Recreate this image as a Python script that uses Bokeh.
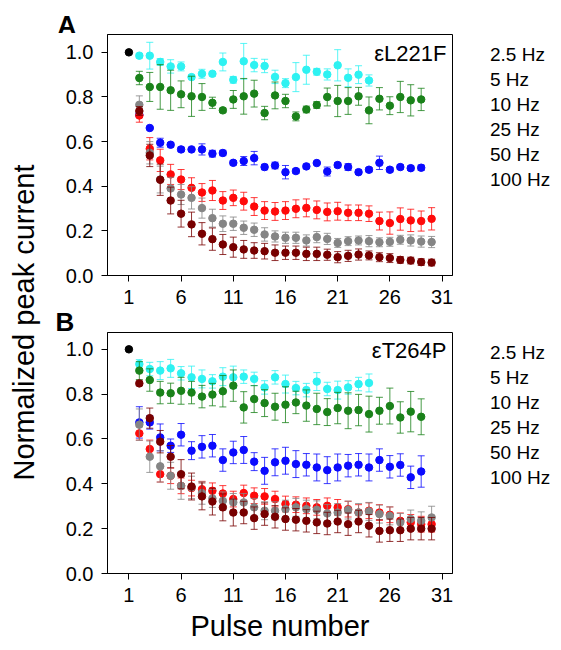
import math
from bokeh.plotting import figure
from bokeh.models import Range1d, FixedTicker, NumeralTickFormatter, Label, Legend, LegendItem
from bokeh.layouts import row, column
from bokeh.embed import file_html
from bokeh.resources import INLINE

# ---------------- data ----------------
pulses = list(range(1, 31))
x_ticks = [1, 6, 11, 16, 21, 26, 31]
y_ticks = [0.0, 0.2, 0.4, 0.6, 0.8, 1.0]
freq_labels = ["2.5 Hz", "5 Hz", "10 Hz", "25 Hz", "50 Hz", "100 Hz"]
series_colors = ["#2ef2f2", "#1a821a", "#0a0aff", "#ff0a0a", "#858585", "#780000"]
legend_colors = ["#33ffff", "#1a821a", "#0000ff", "#ff0000", "#555555", "#700000"]
first_pulse_value = [1.0]

# Panel A (eL221F), values start at pulse 2
a_cyan = [0.985, 0.985, 0.957, 0.937, 0.937, 0.889, 0.904, 0.904, 0.957, 0.877, 0.96, 0.943,
          0.939, 0.89, 0.862, 0.889, 0.922, 0.913, 0.901, 0.942, 0.886, 0.90, 0.874]
a_cyan_err = [0.01, 0.06, 0.015, 0.03, 0.02, 0.01, 0.02, 0.01, 0.04, 0.015, 0.08, 0.03,
              0.03, 0.03, 0.02, 0.065, 0.065, 0.015, 0.025, 0.07, 0.04, 0.04, 0.025]
a_green = [0.885, 0.845, 0.845, 0.83, 0.812, 0.803, 0.80, 0.774, 0.74, 0.789, 0.803, 0.815,
           0.728, 0.807, 0.782, 0.713, 0.744, 0.764, 0.80, 0.782, 0.782, 0.803, 0.74, 0.792,
           0.761, 0.80, 0.785, 0.789]
a_green_err = [0.03, 0.065, 0.1, 0.09, 0.06, 0.09, 0.06, 0.025, 0.01, 0.04, 0.08, 0.06,
               0.03, 0.06, 0.03, 0.02, 0.015, 0.015, 0.04, 0.07, 0.06, 0.04, 0.06, 0.05,
               0.04, 0.07, 0.07, 0.05]
a_blue = [0.72, 0.661, 0.595, 0.586, 0.565, 0.565, 0.565, 0.546, 0.549, 0.505, 0.513, 0.526,
          0.486, 0.493, 0.463, 0.468, 0.489, 0.504, 0.466, 0.495, 0.486, 0.463, 0.474, 0.505,
          0.474, 0.486, 0.481, 0.483]
a_blue_err = [0.01, 0.005, 0.02, 0.01, 0.01, 0.005, 0.025, 0.015, 0.012, 0.01, 0.02, 0.03,
              0.012, 0.015, 0.03, 0.01, 0.01, 0.005, 0.02, 0.01, 0.015, 0.01, 0.01, 0.03,
              0.01, 0.01, 0.01, 0.012]
a_red = [0.717, 0.568, 0.516, 0.453, 0.43, 0.393, 0.372, 0.381, 0.336, 0.348, 0.333, 0.309,
         0.291, 0.287, 0.291, 0.299, 0.303, 0.294, 0.285, 0.288, 0.281, 0.281, 0.277, 0.244,
         0.235, 0.253, 0.247, 0.244, 0.254]
a_red_err = [0.03, 0.05, 0.05, 0.045, 0.045, 0.045, 0.04, 0.045, 0.04, 0.035, 0.04, 0.04,
             0.04, 0.04, 0.04, 0.04, 0.04, 0.04, 0.04, 0.04, 0.035, 0.035, 0.035, 0.04,
             0.05, 0.05, 0.05, 0.045, 0.05]
a_gray = [0.765, 0.55, 0.43, 0.39, 0.363, 0.348, 0.302, 0.257, 0.232, 0.232, 0.214, 0.205,
          0.184, 0.175, 0.169, 0.169, 0.157, 0.172, 0.164, 0.146, 0.154, 0.157, 0.154, 0.149,
          0.151, 0.16, 0.157, 0.152, 0.15]
a_gray_err = [0.04, 0.05, 0.06, 0.05, 0.045, 0.05, 0.045, 0.04, 0.035, 0.03, 0.03, 0.03,
              0.03, 0.025, 0.025, 0.025, 0.025, 0.025, 0.025, 0.02, 0.02, 0.02, 0.025, 0.02,
              0.02, 0.02, 0.025, 0.025, 0.025]
a_maroon = [0.737, 0.538, 0.429, 0.336, 0.277, 0.229, 0.187, 0.163, 0.139, 0.127, 0.117, 0.112,
            0.109, 0.102, 0.102, 0.102, 0.097, 0.097, 0.093, 0.082, 0.088, 0.094, 0.09, 0.082,
            0.078, 0.07, 0.067, 0.06, 0.058]
a_maroon_err = [0.02, 0.05, 0.07, 0.06, 0.06, 0.055, 0.05, 0.05, 0.045, 0.045, 0.04, 0.035,
                0.035, 0.035, 0.03, 0.03, 0.03, 0.03, 0.025, 0.025, 0.025, 0.025, 0.02, 0.02,
                0.02, 0.015, 0.015, 0.015, 0.015]

# Panel B (eT264P), values start at pulse 2
b_cyan = [0.934, 0.912, 0.905, 0.915, 0.893, 0.875, 0.868, 0.857, 0.878, 0.875, 0.878, 0.868,
          0.83, 0.875, 0.845, 0.827, 0.818, 0.856, 0.823, 0.818, 0.83, 0.845, 0.85]
b_cyan_err = [0.02, 0.03, 0.04, 0.04, 0.03, 0.05, 0.04, 0.03, 0.04, 0.05, 0.03, 0.03,
              0.03, 0.03, 0.04, 0.03, 0.03, 0.04, 0.03, 0.04, 0.03, 0.03, 0.04]
b_green = [0.905, 0.863, 0.807, 0.804, 0.815, 0.807, 0.789, 0.798, 0.813, 0.838, 0.741, 0.778,
           0.76, 0.744, 0.753, 0.763, 0.749, 0.734, 0.72, 0.738, 0.726, 0.729, 0.711, 0.726,
           0.747, 0.696, 0.722, 0.699]
b_green_err = [0.04, 0.05, 0.05, 0.045, 0.06, 0.05, 0.05, 0.05, 0.07, 0.07, 0.07, 0.06,
               0.06, 0.06, 0.08, 0.05, 0.07, 0.07, 0.06, 0.07, 0.08, 0.07, 0.08, 0.06,
               0.08, 0.07, 0.09, 0.08]
b_blue = [0.674, 0.674, 0.607, 0.57, 0.619, 0.548, 0.565, 0.57, 0.506, 0.54, 0.551, 0.499,
          0.458, 0.496, 0.503, 0.488, 0.485, 0.473, 0.461, 0.473, 0.481, 0.485, 0.473, 0.506,
          0.476, 0.484, 0.429, 0.455]
b_blue_err = [0.07, 0.03, 0.06, 0.03, 0.05, 0.04, 0.05, 0.05, 0.05, 0.05, 0.06, 0.04,
              0.06, 0.06, 0.06, 0.06, 0.05, 0.06, 0.06, 0.06, 0.05, 0.05, 0.06, 0.05,
              0.05, 0.05, 0.05, 0.07]
b_red = [0.625, 0.555, 0.443, 0.436, 0.391, 0.381, 0.376, 0.369, 0.357, 0.332, 0.359, 0.347,
         0.344, 0.332, 0.31, 0.307, 0.302, 0.295, 0.302, 0.295, 0.287, 0.272, 0.28, 0.272,
         0.262, 0.235, 0.228, 0.22, 0.22]
b_red_err = [0.03, 0.04, 0.035, 0.035, 0.035, 0.035, 0.035, 0.035, 0.035, 0.035, 0.035, 0.035,
             0.035, 0.035, 0.035, 0.035, 0.035, 0.035, 0.035, 0.035, 0.035, 0.035, 0.035, 0.035,
             0.035, 0.035, 0.035, 0.035, 0.035]
b_gray = [0.664, 0.521, 0.478, 0.436, 0.391, 0.384, 0.359, 0.335, 0.324, 0.317, 0.317, 0.295,
          0.28, 0.28, 0.287, 0.295, 0.287, 0.284, 0.268, 0.272, 0.283, 0.272, 0.277, 0.265,
          0.257, 0.228, 0.243, 0.235, 0.25]
b_gray_err = [0.07, 0.07, 0.07, 0.06, 0.06, 0.05, 0.05, 0.04, 0.04, 0.04, 0.04, 0.04,
              0.04, 0.04, 0.04, 0.04, 0.04, 0.04, 0.04, 0.04, 0.04, 0.04, 0.04, 0.04,
              0.04, 0.04, 0.04, 0.04, 0.05]
b_maroon = [0.848, 0.693, 0.588, 0.521, 0.443, 0.388, 0.344, 0.321, 0.295, 0.272, 0.272, 0.247,
            0.265, 0.253, 0.243, 0.24, 0.235, 0.228, 0.223, 0.232, 0.22, 0.232, 0.213, 0.19,
            0.193, 0.193, 0.2, 0.2, 0.2]
b_maroon_err = [0.01, 0.045, 0.05, 0.05, 0.065, 0.06, 0.06, 0.06, 0.06, 0.06, 0.05, 0.05,
                0.05, 0.05, 0.05, 0.05, 0.05, 0.05, 0.05, 0.05, 0.05, 0.05, 0.05, 0.05,
                0.05, 0.05, 0.05, 0.05, 0.05]

panel_a = [(a_cyan, a_cyan_err), (a_green, a_green_err), (a_blue, a_blue_err),
           (a_red, a_red_err), (a_gray, a_gray_err), (a_maroon, a_maroon_err)]
panel_b = [(b_cyan, b_cyan_err), (b_green, b_green_err), (b_blue, b_blue_err),
           (b_red, b_red_err), (b_gray, b_gray_err), (b_maroon, b_maroon_err)]

FONT = "Liberation Sans"
YLAB_W = 48
PANEL_W = 405
LEG_W = 108
FRAME_H = 241
A_BOTTOM = 37
B_BOTTOM = 76


def blank(width, height, top=0, bottom=0):
    f = figure(width=width, height=height, x_range=Range1d(0, width), y_range=Range1d(0, height - top - bottom),
               x_axis_type=None, y_axis_type=None, output_backend="svg", toolbar_location=None,
               min_border_left=0, min_border_right=0, min_border_top=top, min_border_bottom=bottom)
    f.outline_line_color = None
    f.xgrid.visible = False
    f.ygrid.visible = False
    return f


def make_panel(series, mutant, ymax, bottom, mutant_pos, xlabel=None):
    height = 1 + FRAME_H + bottom
    p = figure(width=PANEL_W, height=height, x_range=Range1d(-1.05, 32.0), y_range=Range1d(0, ymax),
               output_backend="svg", toolbar_location=None,
               min_border_left=59, min_border_right=1, min_border_top=1, min_border_bottom=bottom)
    p.xgrid.visible = False
    p.ygrid.visible = False
    p.outline_line_color = "black"
    p.outline_line_width = 1
    for ax in (p.xaxis[0], p.yaxis[0]):
        ax.axis_line_color = "black"
        ax.major_tick_line_color = "black"
        ax.major_tick_out = 6
        ax.major_tick_in = 0
        ax.minor_tick_line_color = None
        ax.major_label_text_font = FONT
        ax.major_label_text_font_size = "20px"
        ax.major_label_text_color = "black"
    p.xaxis.ticker = FixedTicker(ticks=x_ticks)
    p.yaxis.ticker = FixedTicker(ticks=y_ticks)
    p.yaxis.formatter = NumeralTickFormatter(format="0.0")
    p.xaxis.major_label_standoff = 8
    p.yaxis.major_label_standoff = 8
    if xlabel:
        p.xaxis.axis_label = xlabel
        p.xaxis.axis_label_text_font = FONT
        p.xaxis.axis_label_text_font_size = "29px"
        p.xaxis.axis_label_text_font_style = "normal"
        p.xaxis.axis_label_text_color = "black"
        p.xaxis.axis_label_standoff = 5

    for (vals, errs), col in zip(series, series_colors):
        xs = pulses[1:1 + len(vals)]
        lo = [v - e for v, e in zip(vals, errs)]
        hi = [v + e for v, e in zip(vals, errs)]
        p.segment(xs, lo, xs, hi, line_color=col, line_alpha=0.8, line_width=1)
        p.scatter(xs, hi, marker="dash", size=7, line_color=col, line_alpha=0.8, line_width=1)
        p.scatter(xs, lo, marker="dash", size=7, line_color=col, line_alpha=0.8, line_width=1)
        p.scatter(xs, vals, size=7.5, fill_color=col, line_color=col)
    p.scatter(pulses[:1], first_pulse_value, size=7.5, fill_color="black", line_color="black")

    p.add_layout(Label(x=mutant_pos[0], y=mutant_pos[1], text=mutant, text_font=FONT,
                       text_font_size="22px", text_color="black",
                       text_align="right", text_baseline="middle"))
    return p


def make_legend(bottom):
    f = blank(LEG_W, 1 + FRAME_H + bottom, top=1, bottom=bottom)
    items = []
    for lab, col in zip(freq_labels, legend_colors):
        r = f.scatter(x=[], y=[], size=10, fill_color=col, line_color=col)
        items.append(LegendItem(label=lab, renderers=[r]))
    legend = Legend(items=items, location=(0, FRAME_H - 8 - 150), orientation="vertical",
                    glyph_width=29, glyph_height=25, label_height=25, spacing=0, padding=0,
                    margin=0, label_standoff=8, border_line_color=None, background_fill_alpha=0,
                    label_text_font=FONT, label_text_font_size="19px", label_text_color="black")
    f.add_layout(legend)
    return f


# strip with the panel letter "A" above panel A
stripA = blank(PANEL_W + LEG_W, 33)
stripA.add_layout(Label(x=9, y=9, text="A", text_font=FONT, text_font_size="26px",
                        text_font_style="bold", text_color="black", text_baseline="middle"))
pA = make_panel(panel_a, "\u03b5L221F", 1.08, A_BOTTOM, (31.42, 0.995))
legA = make_legend(A_BOTTOM)

# strip with the panel letter "B"
stripB = blank(PANEL_W + LEG_W, 19)
stripB.add_layout(Label(x=7, y=9.5, text="B", text_font=FONT, text_font_size="26px",
                        text_font_style="bold", text_color="black", text_baseline="middle"))
pB = make_panel(panel_b, "\u03b5T264P", 1.075, B_BOTTOM, (31.42, 0.995), xlabel="Pulse number")
legB = make_legend(B_BOTTOM)

total_h = 33 + (1 + FRAME_H + A_BOTTOM) + 19 + (1 + FRAME_H + B_BOTTOM)
ylab = blank(YLAB_W, total_h)
ylab.add_layout(Label(x=23, y=total_h - 322, text="Normalized peak current", text_font=FONT,
                      text_font_size="29px", text_color="black", angle=math.pi / 2,
                      text_align="center", text_baseline="middle"))

layout = row(ylab, column(stripA, row(pA, legA), stripB, row(pB, legB)))
open("out.html", "w").write(file_html(layout, INLINE))
